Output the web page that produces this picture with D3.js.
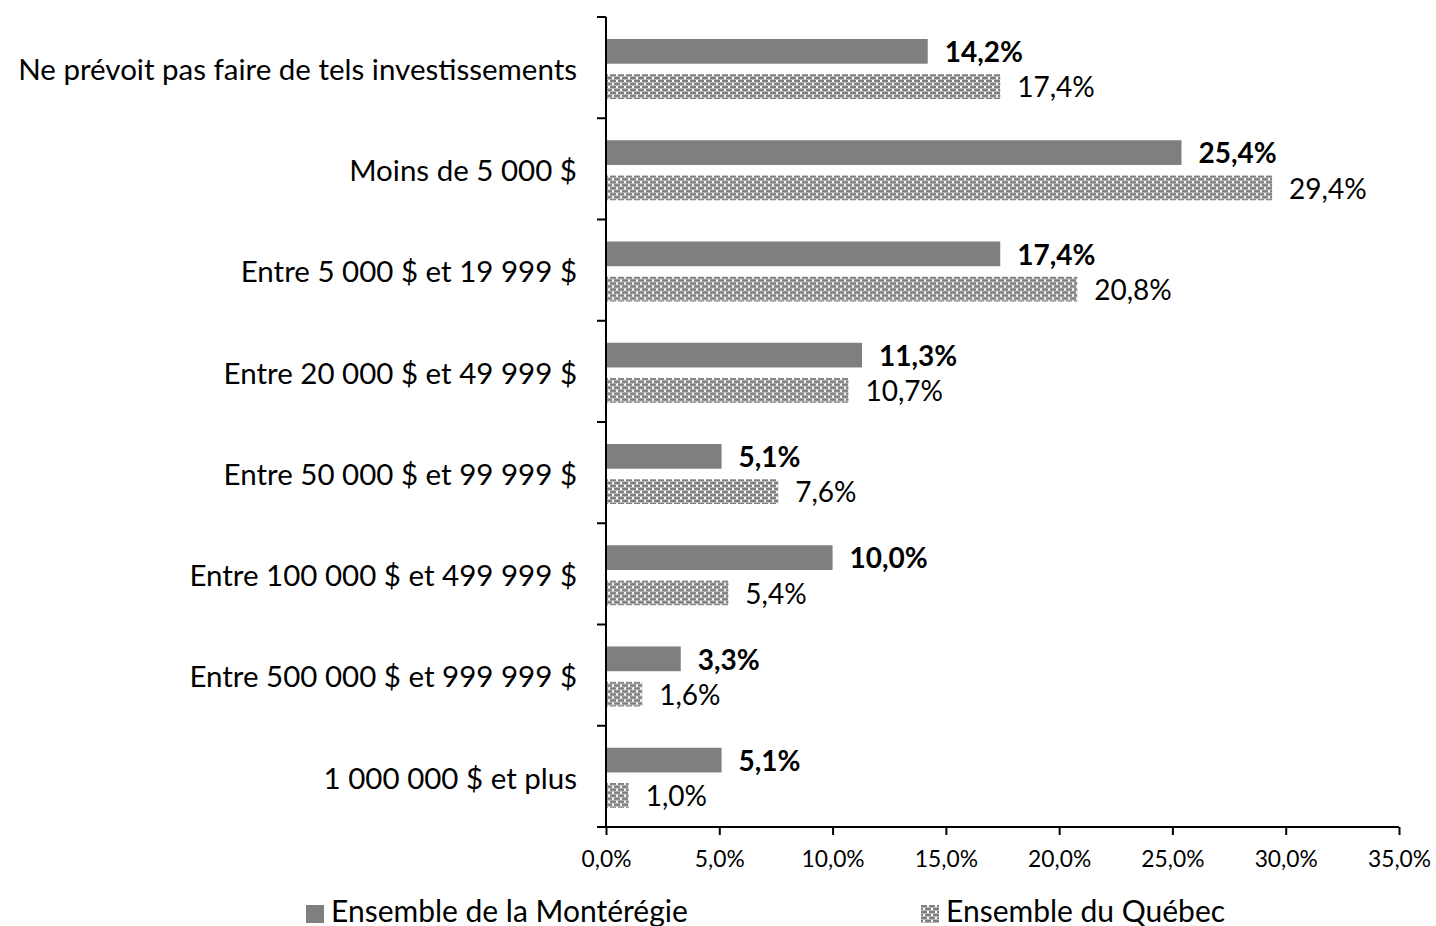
<!DOCTYPE html>
<html>
<head>
<meta charset="utf-8">
<script src="https://cdn.jsdelivr.net/npm/d3@7"></script>
<style>
  body { margin: 0; background: #fff; }
  text { font-family: Lato, "Open Sans", sans-serif; fill: #000; }
</style>
</head>
<body>
<svg id="chart" width="1436" height="926"></svg>
<script>
var categories = ["Ne prévoit pas faire de tels investissements", "Moins de 5 000 $",
    "Entre 5 000 $ et 19 999 $", "Entre 20 000 $ et 49 999 $", "Entre 50 000 $ et 99 999 $",
    "Entre 100 000 $ et 499 999 $", "Entre 500 000 $ et 999 999 $", "1 000 000 $ et plus"]
var seriesNames = ["Ensemble de la Montérégie", "Ensemble du Québec"]
var monteregie = [14.2, 25.4, 17.4, 11.3, 5.1, 10.0, 3.3, 5.1]
var quebec = [17.4, 29.4, 20.8, 10.7, 7.6, 5.4, 1.6, 1.0]
var xTicks = [0, 5, 10, 15, 20, 25, 30, 35]

var svg = d3.select("#chart"),
    margin = { top: 17, left: 606 },
    width = 793,
    height = 810;

var defs = svg.append("defs")
var pat = defs.append("pattern")
    .attr("id", "hatch")
    .attr("patternUnits", "userSpaceOnUse")
    .attr("width", 8)
    .attr("height", 6)
pat.append("rect").attr("width", 8).attr("height", 6).attr("fill", "#fff")
pat.append("rect").attr("x", 0).attr("y", 0).attr("width", 6).attr("height", 2).attr("fill", "#7f7f7f")
pat.append("rect").attr("x", 4).attr("y", 3).attr("width", 6).attr("height", 2).attr("fill", "#7f7f7f")
pat.append("rect").attr("x", -4).attr("y", 3).attr("width", 6).attr("height", 2).attr("fill", "#7f7f7f")
pat.append("rect").attr("x", 0).attr("y", 2).attr("width", 8).attr("height", 1).attr("fill", "#b8b8b8")
pat.append("rect").attr("x", 0).attr("y", 5).attr("width", 8).attr("height", 1).attr("fill", "#b8b8b8")

var x = d3.scaleLinear().domain([0, 35]).range([0, width]);
var y = d3.scaleBand().domain(categories).range([0, height]);
var sub = d3.scaleBand().domain([0, 1]).range([22, 82]).paddingInner(0.3);

var g = svg.append("g")
    .attr("transform", "translate(" + margin.left + "," + margin.top + ")");

var rows = categories.map(function(c, i) {
    return { cat: c, vals: [monteregie[i], quebec[i]] }
})

var grp = g.selectAll(".row")
    .data(rows)
    .enter().append("g")
    .attr("class", "row")
    .attr("transform", function(d) { return "translate(0," + y(d.cat) + ")"; })

grp.selectAll("rect")
    .data(function(d) { return d.vals.map(function(v, k) { return { v: v, k: k }; }); })
    .enter().append("rect")
    .attr("x", 0)
    .attr("y", function(d) { return sub(d.k); })
    .attr("width", function(d) { return x(d.v); })
    .attr("height", sub.bandwidth())
    .attr("fill", function(d) { return d.k == 0 ? "#7f7f7f" : "url(#hatch)"; })

grp.selectAll(".val")
    .data(function(d) { return d.vals.map(function(v, k) { return { v: v, k: k }; }); })
    .enter().append("text")
    .attr("class", "val")
    .attr("x", function(d) { return x(d.v) + 17; })
    .attr("y", function(d) { return sub(d.k) + sub.bandwidth() / 2 + 1; })
    .attr("dy", "0.35em")
    .attr("font-size", 28)
    .attr("font-weight", function(d) { return d.k == 0 ? "bold" : "normal"; })
    .text(function(d) { return d.v.toFixed(1).replace(".", ",") + "%"; })

// category labels
g.selectAll(".cat")
    .data(categories)
    .enter().append("text")
    .attr("class", "cat")
    .attr("x", -29)
    .attr("y", function(d) { return y(d) + y.bandwidth() / 2 + 2; })
    .attr("dy", "0.35em")
    .attr("text-anchor", "end")
    .attr("font-size", 29.5)
    .text(function(d) { return d; })

// y axis with ticks between categories
var yAxis = g.append("g")
yAxis.append("line")
    .attr("x1", 0).attr("x2", 0).attr("y1", 0).attr("y2", height)
    .attr("stroke", "#000").attr("stroke-width", 2)
yAxis.selectAll(".yt")
    .data(categories.concat(["end"]))
    .enter().append("line")
    .attr("x1", -9).attr("x2", 0)
    .attr("y1", function(d, i) { return i * y.step(); })
    .attr("y2", function(d, i) { return i * y.step(); })
    .attr("stroke", "#000").attr("stroke-width", 2)

// x axis
var xAxis = g.append("g")
    .attr("transform", "translate(0," + height + ")")
    .call(d3.axisBottom(x).tickValues(xTicks).tickSize(8).tickPadding(16)
        .tickFormat(function(d) { return d.toFixed(1).replace(".", ",") + "%"; }))
xAxis.select(".domain").attr("stroke-width", 2).attr("d", "M0,0H" + width)
xAxis.selectAll(".tick line").attr("stroke-width", 2)
xAxis.selectAll(".tick text").attr("font-size", 22.8).attr("font-family", "Lato")

// legend
var legendX = [306, 921]
var leg = svg.selectAll(".leg")
    .data(seriesNames)
    .enter().append("g")
    .attr("class", "leg")
    .attr("transform", function(d, i) { return "translate(" + legendX[i] + ",905)"; })
leg.append("rect")
    .attr("width", 18).attr("height", 18)
    .attr("fill", function(d, i) { return i == 0 ? "#7f7f7f" : "url(#hatch)"; })
leg.append("text")
    .attr("x", 25)
    .attr("y", 17)
    .attr("font-size", 30)
    .text(function(d) { return d; })
</script>
</body>
</html>
